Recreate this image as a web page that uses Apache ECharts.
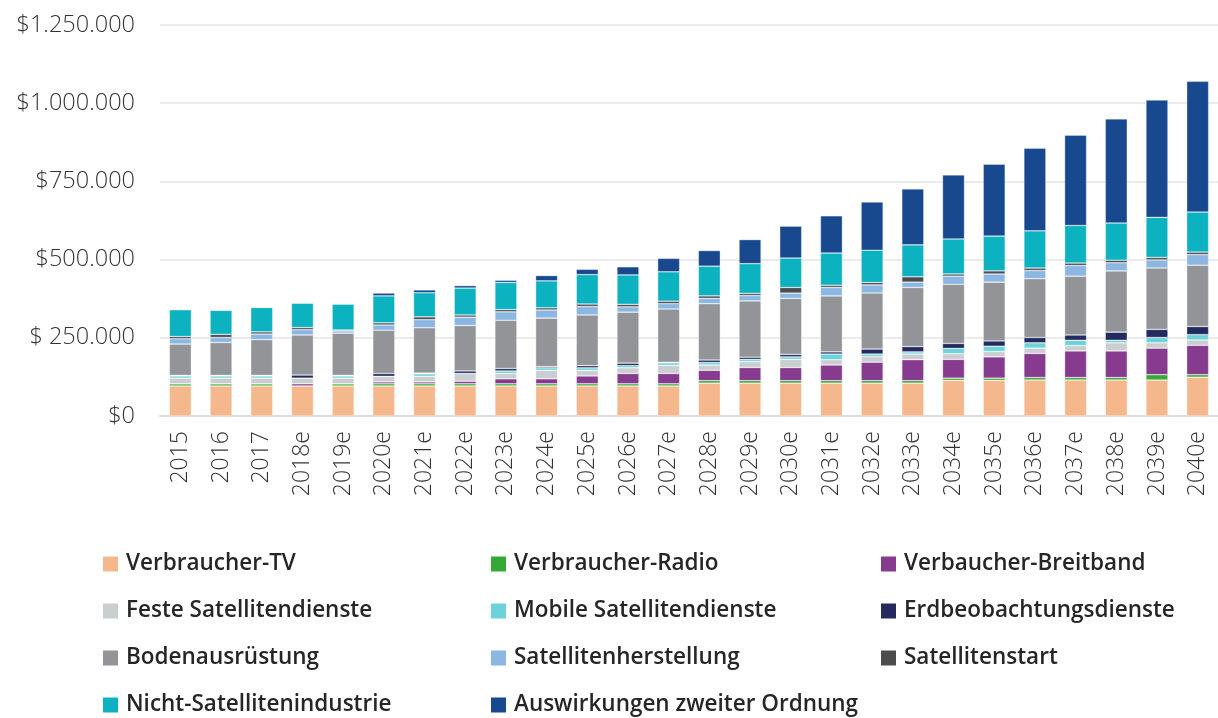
<!DOCTYPE html>
<html>
<head>
<meta charset="utf-8">
<script src="https://cdn.jsdelivr.net/npm/echarts@6.0.0/dist/echarts.min.js"></script>
<style>
html, body { margin: 0; padding: 0; background: #fff; }
#root { width: 1218px; height: 718px; }
</style>
</head>
<body>
<div id="root"></div>
<script>
// categories and y tick labels
var years = ['2015', '2016', '2017', '2018e', '2019e', '2020e', '2021e', '2022e', '2023e', '2024e', '2025e', '2026e', '2027e',
	'2028e', '2029e', '2030e', '2031e', '2032e', '2033e', '2034e', '2035e', '2036e', '2037e', '2038e', '2039e', '2040e']
var yTickLabels = ['$0', '$ 250.000', '$500.000', '$750.000', '$1.000.000', '$1.250.000']

// series values (stack order bottom -> top)
var verbraucherTV = [96000, 96000, 96000, 96000, 96000, 96000, 96000, 96000, 96000, 96000, 96000, 96000, 96000,
	105000, 105000, 105000, 105000, 105000, 105000, 114000, 114000, 115000, 115000, 115000, 115000, 124000]
var verbraucherRadio = [7000, 7000, 7000, 0, 7000, 7000, 7000, 7000, 7000, 7000, 7000, 7000, 7000,
	8000, 8000, 8000, 8000, 8000, 8000, 7000, 7000, 8000, 8000, 8000, 17000, 8000]
var verbaucherBreitband = [0, 0, 0, 7000, 0, 6000, 6000, 8000, 16000, 16000, 25000, 33000, 33000,
	33000, 42000, 42000, 50000, 59000, 67000, 60000, 68000, 77000, 85000, 85000, 85000, 94000]
var festeSat = [18000, 18000, 18000, 18000, 18000, 18000, 18000, 25000, 17000, 27000, 18000, 18000, 26000,
	17000, 19000, 26000, 17000, 18000, 18000, 18000, 17000, 17000, 17000, 26000, 17000, 17000]
var mobileSat = [7000, 7000, 7000, 0, 7000, 0, 8000, 0, 8000, 8000, 8000, 7000, 8000,
	8000, 7000, 8000, 18000, 8000, 7000, 17000, 17000, 17000, 17000, 8000, 17000, 17000]
var erdbeobachtung = [2000, 2000, 2000, 10000, 2000, 9000, 2000, 8000, 8000, 4000, 7000, 8000, 2000,
	8000, 7000, 8000, 7000, 16000, 17000, 16000, 17000, 17000, 17000, 26000, 26000, 26000]
var bodenausruestung = [100000, 105000, 114000, 128000, 135000, 138000, 145000, 145000, 154000, 155000, 162000, 163000, 170000,
	180000, 180000, 179000, 179000, 179000, 189000, 189000, 188000, 188000, 188000, 196000, 196000, 196000]
var satHerstellung = [17000, 16000, 18000, 17000, 7000, 17000, 26000, 27000, 27000, 26000, 27000, 17000, 17000,
	17000, 17000, 17000, 27000, 26000, 17000, 26000, 26000, 26000, 34000, 26000, 26000, 34000]
var satStart = [7000, 10000, 7000, 7000, 3000, 7000, 9000, 7000, 7000, 7000, 8000, 8000, 8000,
	8000, 7000, 18000, 7000, 8000, 17000, 7000, 10000, 8000, 8000, 8000, 8000, 8000]
var nichtSat = [86000, 77000, 78000, 78000, 83000, 86000, 77000, 86000, 87000, 86000, 94000, 94000, 94000,
	95000, 95000, 94000, 103000, 103000, 102000, 112000, 111000, 119000, 120000, 119000, 128000, 128000]
var auswirkungen = [0, 0, 0, 0, 0, 9000, 9000, 8000, 7000, 17000, 17000, 26000, 43000,
	50000, 77000, 102000, 119000, 154000, 179000, 205000, 230000, 264000, 289000, 333000, 375000, 418000]

var seriesDefs = [
	{ name: 'Verbraucher-TV', data: verbraucherTV, color: '#f5b78c' },
	{ name: 'Verbraucher-Radio', data: verbraucherRadio, color: '#35a935' },
	{ name: 'Verbaucher-Breitband', data: verbaucherBreitband, color: '#863b8e' },
	{ name: 'Feste Satellitendienste', data: festeSat, color: '#cbced1' },
	{ name: 'Mobile Satellitendienste', data: mobileSat, color: '#6dd3da' },
	{ name: 'Erdbeobachtungsdienste', data: erdbeobachtung, color: '#232b5e' },
	{ name: 'Bodenausrüstung', data: bodenausruestung, color: '#939498' },
	{ name: 'Satellitenherstellung', data: satHerstellung, color: '#8db7e3' },
	{ name: 'Satellitenstart', data: satStart, color: '#4b4c4e' },
	{ name: 'Nicht-Satellitenindustrie', data: nichtSat, color: '#0cb2c0' },
	{ name: 'Auswirkungen zweiter Ordnung', data: auswirkungen, color: '#18498e' }
]

var font = '"Open Sans", "Noto Sans", sans-serif'

var legendColumns = [
	{ left: 103, data: ['Verbraucher-TV', 'Feste Satellitendienste', 'Bodenausrüstung', 'Nicht-Satellitenindustrie'] },
	{ left: 491, data: ['Verbraucher-Radio', 'Mobile Satellitendienste', 'Satellitenherstellung', 'Auswirkungen zweiter Ordnung'] },
	{ left: 881, data: ['Verbaucher-Breitband', 'Erdbeobachtungsdienste', 'Satellitenstart'] }
]

var chart = echarts.init(document.getElementById('root'), null, { renderer: 'canvas' })

var option = {
	animation: false,
	textStyle: { fontFamily: font },
	grid: { left: 160, right: -8, top: 25, bottom: 302, containLabel: false },
	legend: legendColumns.map(col => ({
		orient: 'vertical',
		left: col.left,
		top: 551,
		height: 200,
		padding: 0,
		icon: 'rect',
		itemWidth: 15,
		itemHeight: 15,
		itemGap: 21,
		itemStyle: { borderWidth: 0 },
		data: col.data,
		selectedMode: false,
		textStyle: {
			fontFamily: font,
			fontSize: 22.5,
			fontWeight: 600,
			color: '#262626',
			lineHeight: 26,
			padding: [0, 0, 0, 3]
		}
	})),
	xAxis: {
		type: 'category',
		data: years,
		axisLine: { show: true, lineStyle: { color: '#dcdcdc', width: 2 } },
		axisTick: { show: false },
		axisLabel: {
			rotate: 90,
			margin: 15,
			fontSize: 23,
			fontWeight: 300,
			color: '#333',
			fontFamily: font,
			interval: 0
		}
	},
	yAxis: {
		type: 'value',
		min: 0,
		max: 1250000,
		interval: 250000,
		axisLine: { show: false },
		axisTick: { show: false },
		splitLine: { lineStyle: { color: '#e4e4e4', width: 1.5 } },
		axisLabel: {
			margin: 25,
			fontSize: 23.5,
			fontWeight: 300,
			color: '#333',
			fontFamily: font,
			formatter: v => yTickLabels[Math.round(v / 250000)]
		}
	},
	series: seriesDefs.map(s => ({
		name: s.name,
		type: 'bar',
		stack: 'total',
		barWidth: 22,
		data: s.data,
		itemStyle: { color: s.color, borderColor: 'rgba(255,255,255,0.55)', borderWidth: 0.6 }
	}))
}

chart.setOption(option)
</script>
</body>
</html>
